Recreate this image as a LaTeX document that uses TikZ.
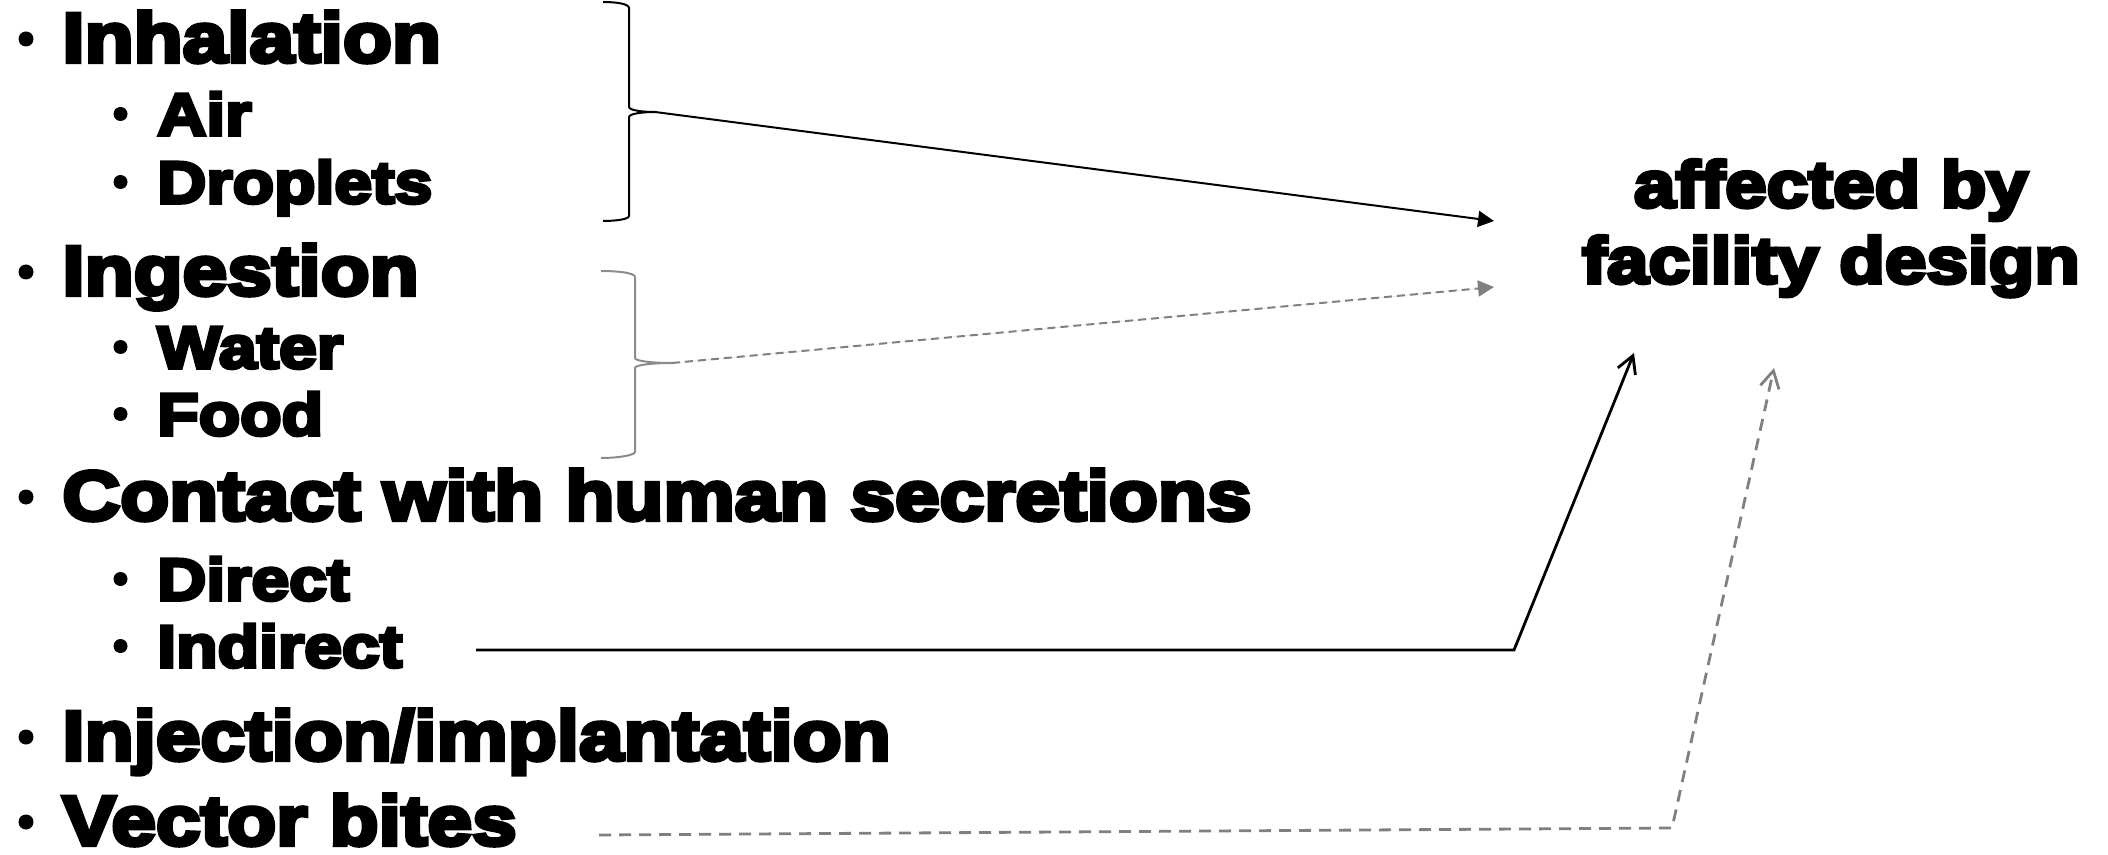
\documentclass[tikz,border=0pt]{standalone}
\usepackage{fontspec}
\newfontfamily\heavyfont{Liberation Sans Bold}[FakeBold=6,FakeStretch=1.145]
\usetikzlibrary{arrows.meta}
\definecolor{linegray}{HTML}{808080}
\definecolor{bracegray}{HTML}{8C8C8C}
\begin{document}
\begin{tikzpicture}[x=0.5pt,y=-0.5pt,
  lvlone/.style={anchor=base west, inner sep=0pt, font=\heavyfont\fontsize{35pt}{42pt}\selectfont},
  lvltwo/.style={anchor=base west, inner sep=0pt, font=\heavyfont\fontsize{29.6pt}{35pt}\selectfont},
  sidetext/.style={anchor=base, inner sep=0pt, align=center, font=\heavyfont\fontsize{32.6pt}{38pt}\selectfont},
  solidlink/.style={draw=black, line width=1pt},
  dashlink/.style={draw=linegray, line width=1pt, dash pattern=on 4pt off 2.5pt},
  barbhead/.style={-{Straight Barb[length=8.5pt,width=9.5pt]}},
  trihead/.style={-{Triangle[length=8pt,width=8pt]}},
]
\useasboundingbox (0,0) rectangle (2108,855);

% bulleted list, first and second level
\node[lvlone] (inhal)    at (62,62)  {Inhalation};
\node[lvltwo] (air)      at (157,135) {Air};
\node[lvltwo] (drop)     at (157,203) {Droplets};
\node[lvlone] (ingest)   at (62,295) {Ingestion};
\node[lvltwo] (water)    at (157,368) {Water};
\node[lvltwo] (food)     at (157,435) {Food};
\node[lvlone] (contact)  at (62,520) {Contact with human secretions};
\node[lvltwo] (direct)   at (157,600) {Direct};
\node[lvltwo] (indirect) at (157,667) {Indirect};
\node[lvlone] (inject)   at (62,760) {Injection/implantation};
\node[lvlone, text depth=0pt] (vector) at (62,845) {Vector bites};

% bullet dots
\foreach \yy in {62,295,520,760,845}
  \fill (26,\yy-23) circle[radius=7.5];
\foreach \yy in {135,203,368,435,600,667}
  \fill (120.5,\yy-21) circle[radius=7];

% conclusion text (base anchor sits on the last line)
\node[sidetext] (design) at (1831,283) {affected by\\facility design};

% braces
\draw[black, line width=1pt]
  (603,2) .. controls (617,2) and (629,4) .. (629,8) -- (629,107)
  .. controls (629,110) and (641,112) .. (655,112) coordinate (btipone)
  .. controls (641,112) and (629,114) .. (629,117) -- (629,216)
  .. controls (629,219) and (617,221) .. (603,221);
\draw[bracegray, line width=1pt]
  (601,271) .. controls (619,271) and (635,273) .. (635,277) -- (635,358)
  .. controls (635,361) and (652,363) .. (672,363) coordinate (btiptwo)
  .. controls (652,363) and (635,365) .. (635,368) -- (635,452)
  .. controls (635,455) and (619,458) .. (601,458);

% connector end points
\coordinate (endone) at (1494,221);
\coordinate (endtwo) at (1494,287);
\coordinate (indstart) at (476,650);
\coordinate (indbend) at (1514,650);
\coordinate (indend) at (1634,353);
\coordinate (vecstart) at (599,835);
\coordinate (vecbend) at (1672,828);
\coordinate (vecend) at (1774,368);

% connectors
\draw[solidlink, trihead] (btipone) -- (endone);
\draw[dashlink, trihead, fill=linegray] (btiptwo) -- (endtwo);
\draw[solidlink, line width=1.4pt, barbhead] (indstart) -- (indbend) -- (indend);
\draw[dashlink, line width=1.4pt, dash pattern=on 6pt off 4pt, barbhead] (vecstart) -- (vecbend) -- (vecend);
\end{tikzpicture}
\end{document}
